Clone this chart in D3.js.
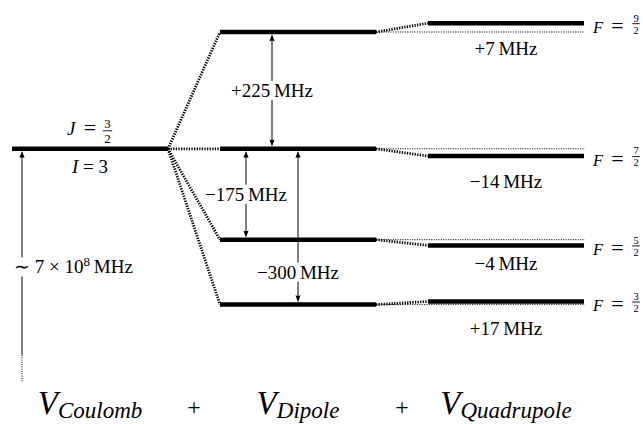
<!DOCTYPE html>
<html><head><meta charset="utf-8">
<script src="https://cdn.jsdelivr.net/npm/d3@7"></script>
<style>body{margin:0;background:#fff} svg{display:block}</style>
</head><body><svg id="c" width="643" height="424"></svg>
<script>
// ---------- data ----------
const stages = ["Coulomb", "Dipole", "Quadrupole"];
const coulombLevel = 0;                      // MHz (reference)
const dipoleShifts = [225, 0, -175, -300];    // MHz
const quadShiftLabels = ["+7", "−14", "−4", "+17"]; // MHz (quoted)
const quadDrawnOffsets = [17, -14, -11, 6];   // schematic (exaggerated) offsets in drawing MHz
const fNumerators = ["9", "7", "5", "3"];
const fDenominator = "2";
const dipoleArrowLabels = ["+225", "−175", "−300"];
const dipoleArrowTargets = [225, -175, -300];
const coulombEnergyText = ["∼ 7 × 10", "8", "MHz"];
const offscaleArrow = [-397, -449];            // solid end, dotted end (drawing MHz)

// ---------- layout ----------
const FONT = '"Liberation Serif"';
const arrowFrac = [1/3, 1/6, 1/2];
const arrowLabelSpan = [[0, 225], [0, -175], [-175, -300]];
const quadLabelDy = [32, 32, 25, 34];
const levelW = 4.5;
const labelGap = 9.5;

const svg = d3.select("#c");
const x = d3.scaleBand().domain(stages).range([12, 584]).paddingInner(0.25).paddingOuter(0);
const y = d3.scaleLinear().domain([-300, 225]).range([304.6, 32]);
const bw = x.bandwidth();

const gConn = svg.append("g");
const gLev = svg.append("g");
const gArr = svg.append("g");
const gTxt = svg.append("g").attr("fill", "#000").attr("font-family", "Liberation Serif");

function txt(g) { return g.append("text").style("font-family", FONT); }
function vline(ax, y1, y2, dash) {
  const l = gArr.append("line").attr("x1", ax).attr("x2", ax).attr("y1", y1).attr("y2", y2)
    .attr("stroke", "#000").attr("stroke-width", 1);
  if (dash) l.attr("stroke-dasharray", dash);
}
function dotted(g, x1, y1, x2, y2, thick) {
  g.append("line").attr("x1", x1).attr("y1", y1).attr("x2", x2).attr("y2", y2)
    .attr("stroke", thick ? "#000" : "#222")
    .attr("stroke-width", thick ? 2.8 : 1)
    .attr("stroke-dasharray", thick ? "1.3,1.3" : "1.2,1.2");
}
function level(stage, e) {
  gLev.append("line").attr("x1", x(stage)).attr("x2", x(stage) + bw)
    .attr("y1", y(e)).attr("y2", y(e))
    .attr("stroke", "#000").attr("stroke-width", levelW);
}
function head(xt, yt, dir) { // dir=-1 points up, +1 points down
  const L = 7, hw = 2.6;
  gArr.append("path")
    .attr("d", `M${xt},${yt} L${xt - hw},${yt - dir * L} Q${xt},${yt - dir * (L - 1.5)} ${xt + hw},${yt - dir * L} Z`)
    .attr("fill", "#000");
}
function frac(g, cx, barY, num, den, size) {
  txt(g).attr("text-anchor", "middle").attr("font-size", size)
    .attr("x", cx).attr("y", barY - 0.2 * size).text(num);
  txt(g).attr("text-anchor", "middle").attr("font-size", size)
    .attr("x", cx).attr("y", barY + 0.94 * size).text(den);
  g.append("line").attr("x1", cx - size * 0.36).attr("x2", cx + size * 0.36)
    .attr("y1", barY).attr("y2", barY).attr("stroke", "#000").attr("stroke-width", 0.9);
}

// ---------- connectors ----------
const xC = x("Coulomb"), xD = x("Dipole"), xQ = x("Quadrupole");
dipoleShifts.forEach(d => dotted(gConn, xC + bw, y(coulombLevel), xD, y(d), true));
dipoleShifts.forEach((d, i) => {
  dotted(gConn, xD + bw, y(d), xQ + bw + 1, y(d), false);
  dotted(gConn, xD + bw, y(d), xQ, y(d + quadDrawnOffsets[i]), true);
});

// ---------- levels ----------
level("Coulomb", coulombLevel);
dipoleShifts.forEach(d => level("Dipole", d));
dipoleShifts.forEach((d, i) => level("Quadrupole", d + quadDrawnOffsets[i]));

// ---------- dipole arrows ----------
dipoleArrowTargets.forEach((t, i) => {
  const ax = xD + bw * arrowFrac[i];
  const y0 = y(0), y1 = y(t);
  const dir = y1 < y0 ? -1 : 1;
  const ya = y0 + dir * levelW / 2, yb = y1 - dir * levelW / 2;
  const span = arrowLabelSpan[i];
  const my = (y(span[0]) + y(span[1])) / 2;
  const top = Math.min(ya, yb), bot = Math.max(ya, yb);
  vline(ax, top + 4, my - labelGap);
  vline(ax, my + labelGap, bot - 4);
  head(ax, ya, -dir);
  head(ax, yb, dir);
  txt(gTxt).attr("x", ax).attr("y", my + 6.5).attr("text-anchor", "middle")
    .attr("font-size", 19).text(dipoleArrowLabels[i] + "\u2009MHz");
});

// ---------- left off-scale arrow ----------
{
  const ax = xC + 10;
  const yt = y(coulombLevel) + levelW / 2;
  const my = y(-240) - 6.5;
  vline(ax, yt + 4, my - labelGap);
  vline(ax, my + labelGap, y(offscaleArrow[0]));
  vline(ax, y(offscaleArrow[0]), y(offscaleArrow[1]), "1,1.3");
  head(ax, yt, -1);
  const t = txt(gTxt).attr("x", xC + 2).attr("y", y(-240)).attr("font-size", 19);
  t.append("tspan").text(coulombEnergyText[0]);
  t.append("tspan").attr("dy", -7).attr("font-size", 13).text(coulombEnergyText[1]);
  t.append("tspan").attr("dy", 7).text("\u2009" + coulombEnergyText[2]);
}

// ---------- J / I labels ----------
{
  const cx = xC + bw / 2;
  const barY = y(coulombLevel) - 18;
  txt(gTxt).attr("x", cx - 23).attr("y", y(coulombLevel) - 13.5)
    .attr("font-size", 19).attr("font-style", "italic").text("J");
  txt(gTxt).attr("x", cx).attr("y", y(coulombLevel) - 13.5)
    .attr("text-anchor", "middle").attr("font-size", 22).text("=");
  frac(gTxt, cx + 17.5, barY, "3", "2", 13);
  const it = txt(gTxt).attr("x", cx).attr("y", y(coulombLevel) + 24).attr("text-anchor", "middle")
    .attr("font-size", 19);
  it.append("tspan").attr("font-style", "italic").text("I");
  it.append("tspan").text(" = 3");
}

// ---------- quadrupole labels + F labels ----------
dipoleShifts.forEach((d, i) => {
  const ly = y(d + quadDrawnOffsets[i]);
  txt(gTxt).attr("x", xQ + bw / 2).attr("y", ly + quadLabelDy[i]).attr("text-anchor", "middle")
    .attr("font-size", 19).text(quadShiftLabels[i] + "\u2009MHz");
  const fx = xQ + bw + 9;
  txt(gTxt).attr("x", fx).attr("y", ly + 9.5).attr("font-size", 16.5)
    .attr("font-style", "italic").text("F");
  txt(gTxt).attr("x", fx + 24.5).attr("y", ly + 10)
    .attr("text-anchor", "middle").attr("font-size", 22).text("=");
  frac(gTxt, fx + 43, ly + 0.5, fNumerators[i], fDenominator, 10.5);
});

// ---------- bottom potential labels ----------
stages.forEach((s, i) => {
  const t = txt(gTxt).attr("x", x(s) + bw / 2).attr("y", 414).attr("text-anchor", "middle")
    .attr("font-size", 33).attr("font-style", "italic");
  t.append("tspan").text("V");
  t.append("tspan").attr("dy", 4).attr("font-size", 23).text(s);
  if (i > 0) {
    txt(gTxt).attr("x", (x(stages[i - 1]) + x(s)) / 2 + bw / 2).attr("y", 415)
      .attr("text-anchor", "middle").attr("font-size", 24).text("+");
  }
});
</script></body></html>
